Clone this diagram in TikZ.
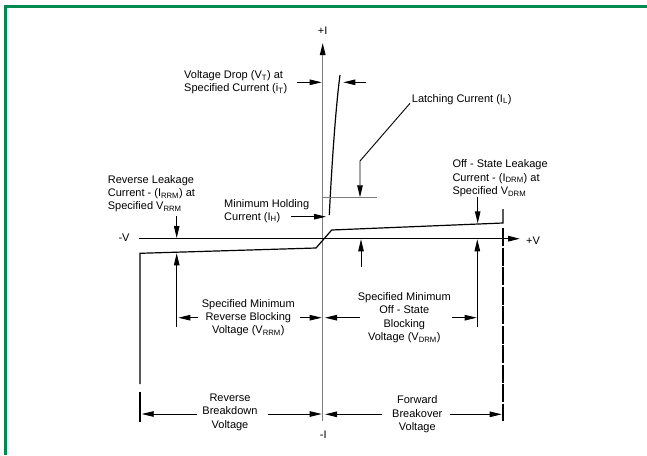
\documentclass[tikz,border=0pt]{standalone}
\usepackage{fontspec}
\setmainfont{Liberation Sans}
\usetikzlibrary{arrows.meta}
\definecolor{framegreen}{RGB}{0,138,82}
\definecolor{axisgray}{RGB}{125,125,125}

\begin{document}
\begin{tikzpicture}[x=1pt,y=-1pt,
  >={Triangle[length=12pt,width=5.5pt]},
  every node/.style={inner sep=0pt,font=\fontsize{11}{13.3}\selectfont},
  dim/.style={line width=0.9pt,->},
  curve/.style={line width=1.2pt}]
\useasboundingbox (0,0) rectangle (647,455);
\fill [white] (0,0) rectangle (647,455);
\draw [framegreen, line width=3pt] (5.3,455)--(5.3,6.5)--(647,6.5);

% axes
\draw [axisgray, line width=1.2pt, -{Triangle[length=12pt,width=5.5pt,color=black]}] (322.7,420.7)--(322.7,43);
\draw [line width=1.5pt, ->] (139,238.7)--(520,238.7);
\node (plusI) at (322.7,30.7) {+I};
\node (minusI) at (323.3,435) {-I};
\node (minusV) at (124,238.2) {-V};
\node (plusV) at (533,241) {+V};

% characteristic
\draw [curve] (140,384)--(140,253.3)--(316,248)--(331.7,230)--(503,223)--(503,209);
\draw [curve] (329.3,215) .. controls (332,160) and (336,105) .. (340,75);
\draw [axisgray, line width=1.2pt] (322.7,197.3)--(377.3,197.3);
\draw [line width=1.2pt] (140,391.7)--(140,421.7);
\draw [line width=2pt, dash pattern=on 18pt off 1.5pt] (502.7,228)--(502.7,421);

% labels and arrows
\node [anchor=west, align=left] (vdrop) at (184,82.3) {Voltage Drop (V\textsubscript{T}) at\\Specified Current (i\textsubscript{T})};
\draw [dim] (297,82.3)--(321.7,82.3);
\draw [dim] (365.7,82.3)--(343.3,82.3);

\node [anchor=west] (latch) at (411.7,99.3) {Latching Current (I\textsubscript{L})};
\draw [dim] (410,103.3)--(360,161)--(360,197.3);

\node [anchor=west, align=left] (holding) at (224,210.8) {Minimum Holding\\Current (I\textsubscript{H})};
\draw [dim] (291,216.7)--(326,216.7);

\node [anchor=west, align=left] (revleak) at (107.7,193.8) {Reverse Leakage\\Current - (I\textsubscript{RRM}) at\\Specified V\textsubscript{RRM}};
\draw [dim] (176.7,216)--(176.7,238);
\draw [dim] (176.7,326.7)--(176.7,253.3);

\node [anchor=west, align=left] (offleak) at (452.3,178.4) {Off - State Leakage\\Current - (I\textsubscript{DRM}) at\\Specified V\textsubscript{DRM}};
\draw [dim] (477.7,197.3)--(477.7,223.3);
\draw [dim] (477.3,326.7)--(477.3,239.3);
\draw [dim] (361,266.7)--(361,239.3);

\node [align=center] (revblock) at (248.3,317.5) {Specified Minimum\\Reverse Blocking\\Voltage (V\textsubscript{RRM})};
\draw [dim] (198,317.7)--(178.3,317.7);
\draw [dim] (300,317.7)--(321.7,317.7);

\node [align=center] (offblock) at (404.3,317.8) {Specified Minimum\\Off - State\\Blocking\\Voltage (V\textsubscript{DRM})};
\draw [dim] (360,317.7)--(325,317.7);
\draw [dim] (452.3,317.7)--(476.7,317.7);

\node [align=center] (revbreak) at (230,412.3) {Reverse\\Breakdown\\Voltage};
\draw [dim] (196.7,414)--(141.7,414);
\draw [dim] (268.3,414)--(321.7,414);

\node [align=center] (fwdbreak) at (417.3,414.3) {Forward\\Breakover\\Voltage};
\draw [dim] (381.7,414.3)--(325,414.3);
\draw [dim] (450,414.3)--(501.7,414.3);

\end{tikzpicture}
\end{document}
